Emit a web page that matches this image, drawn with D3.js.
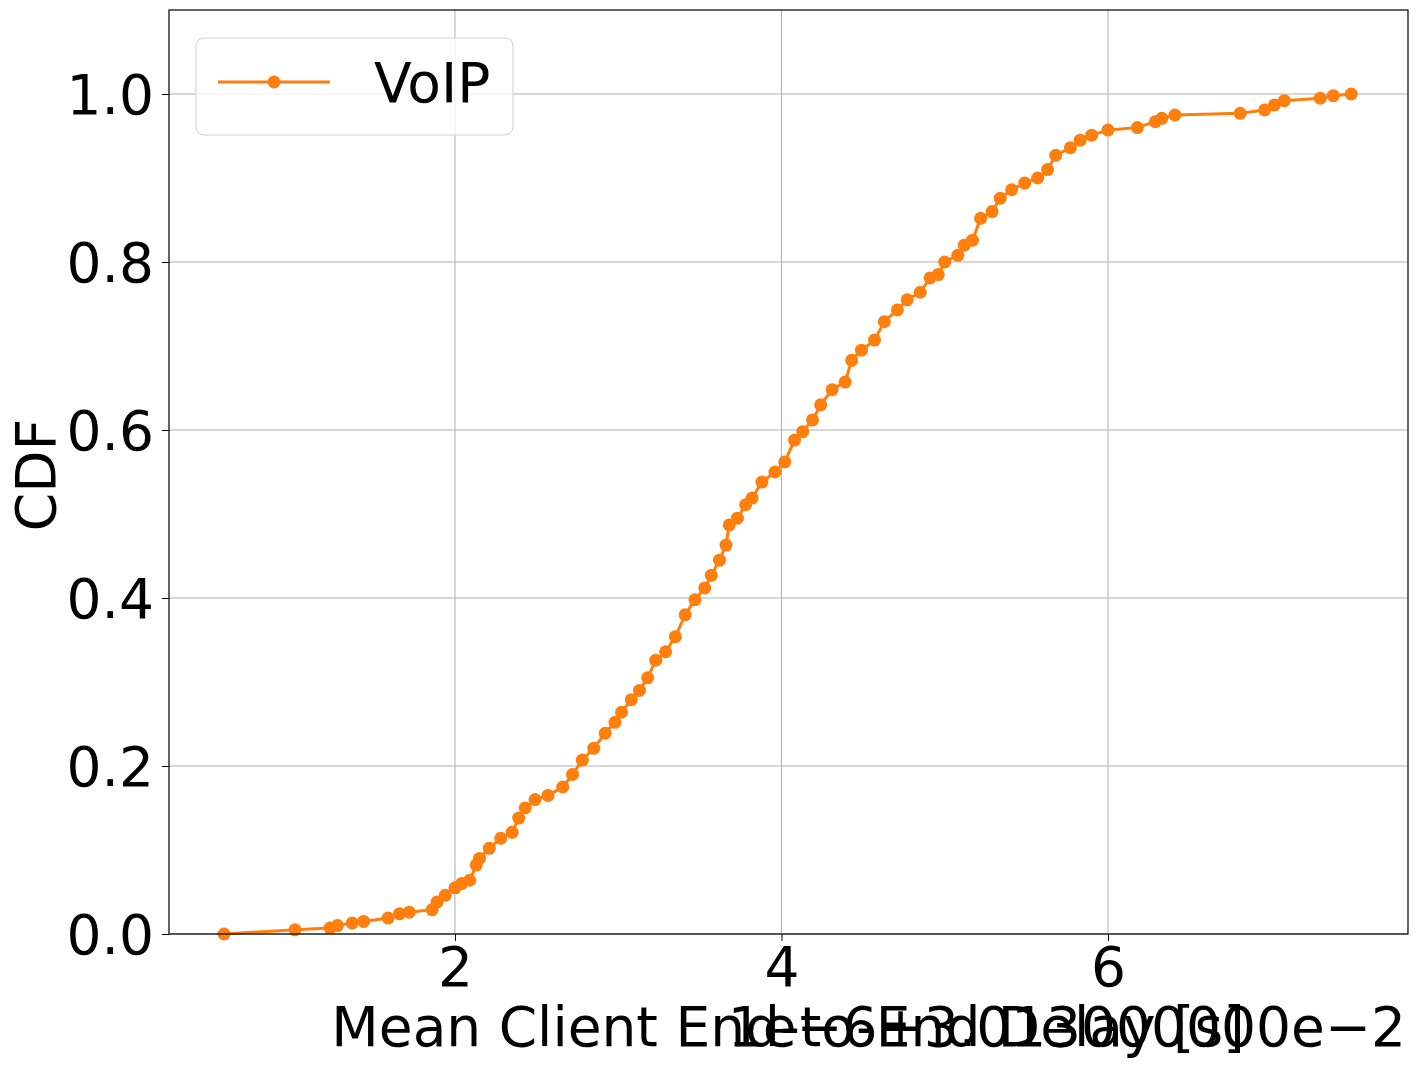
<!DOCTYPE html>
<html><head><meta charset="utf-8">
<script src="https://cdn.jsdelivr.net/npm/d3@7"></script>
<style>body{margin:0;background:#fff}text{font-family:"DejaVu Sans",sans-serif}</style>
</head><body><svg id="c" width="1417" height="1067"></svg>
<script>
// values (x in units of the offset, y = CDF)
var xs = [0.585,1.02,1.234,1.28,1.37,1.44,1.59,1.66,1.72,1.86,1.89,1.94,2.0,2.04,2.09,2.13,2.15,2.21,2.28,2.35,2.39,2.43,2.49,2.57,2.66,2.72,2.78,2.85,2.92,2.98,3.02,3.08,3.13,3.18,3.23,3.29,3.35,3.41,3.47,3.53,3.57,3.62,3.66,3.68,3.73,3.78,3.82,3.88,3.96,4.02,4.08,4.13,4.19,4.24,4.31,4.39,4.43,4.49,4.57,4.63,4.71,4.77,4.85,4.91,4.96,5.0,5.08,5.12,5.17,5.22,5.29,5.34,5.41,5.49,5.57,5.63,5.68,5.77,5.83,5.90,6.0,6.18,6.29,6.33,6.41,6.81,6.96,7.02,7.08,7.30,7.38,7.49];
var ys = [0,0.005,0.007,0.01,0.013,0.015,0.019,0.024,0.026,0.029,0.038,0.046,0.055,0.06,0.064,0.082,0.09,0.102,0.114,0.121,0.138,0.15,0.16,0.165,0.175,0.19,0.207,0.221,0.239,0.252,0.264,0.279,0.29,0.305,0.326,0.336,0.354,0.38,0.398,0.412,0.427,0.445,0.463,0.487,0.495,0.511,0.519,0.538,0.55,0.562,0.588,0.598,0.612,0.63,0.648,0.657,0.683,0.695,0.707,0.729,0.743,0.755,0.764,0.781,0.785,0.8,0.808,0.82,0.826,0.852,0.86,0.876,0.886,0.894,0.9,0.91,0.927,0.936,0.945,0.951,0.957,0.96,0.967,0.971,0.975,0.977,0.981,0.987,0.992,0.995,0.998,1.0];
var xTicks = [2,4,6];
var yTicks = [0,0.2,0.4,0.6,0.8,1.0];
var pts = xs.map(function(d,i){return [d, ys[i]];});

var svg = d3.select('#c');
var L=169,R=1408,T=10,B=934, col='#ff7f0e', fs=55;
var x = d3.scaleLinear().domain([0.248,7.838]).range([L,R]);
var y = d3.scaleLinear().domain([0,1.1]).range([B,T]);

var g = svg.append('g');
xTicks.forEach(function(t){g.append('line').attr('x1',x(t)).attr('x2',x(t)).attr('y1',T).attr('y2',B).attr('stroke','#b0b0b0').attr('stroke-width',1);});
yTicks.forEach(function(t){g.append('line').attr('x1',L).attr('x2',R).attr('y1',y(t)).attr('y2',y(t)).attr('stroke','#b0b0b0').attr('stroke-width',1);});

svg.append('g').attr('transform','translate(0,'+B+')')
  .call(d3.axisBottom(x).tickValues(xTicks).tickFormat(d3.format('d')).tickSize(7).tickPadding(6))
  .call(function(a){a.select('.domain').remove();a.selectAll('text').attr('font-size',fs).attr('fill','#000').attr('font-family','DejaVu Sans');a.selectAll('line').attr('stroke','#000');});
svg.append('g').attr('transform','translate('+L+',0)')
  .call(d3.axisLeft(y).tickValues(yTicks).tickFormat(d3.format('.1f')).tickSize(7).tickPadding(8))
  .call(function(a){a.select('.domain').remove();a.selectAll('text').attr('font-size',fs).attr('fill','#000').attr('font-family','DejaVu Sans').attr('dy','0.35em');a.selectAll('line').attr('stroke','#000');});

var line = d3.line().x(function(d){return x(d[0]);}).y(function(d){return y(d[1]);});
svg.append('path').datum(pts).attr('d',line).attr('fill','none').attr('stroke',col).attr('stroke-width',3);
svg.selectAll('circle.p').data(pts).enter().append('circle').attr('class','p')
  .attr('cx',function(d){return x(d[0]);}).attr('cy',function(d){return y(d[1]);}).attr('r',6.5).attr('fill',col);

svg.append('rect').attr('x',L).attr('y',T).attr('width',R-L).attr('height',B-T).attr('fill','none').attr('stroke','#000').attr('stroke-width',1.2);

svg.append('text').attr('x',788).attr('y',1046).attr('text-anchor','middle').attr('font-size',fs).text('Mean Client End-to-End Delay [s]');
svg.append('text').attr('x',1406).attr('y',1046).attr('text-anchor','end').attr('font-size',fs).text('1e\u22126+3.013000000e\u22122');
svg.append('text').attr('transform','translate(55,475) rotate(-90)').attr('text-anchor','middle').attr('font-size',fs).text('CDF');

var lg = svg.append('g');
lg.append('rect').attr('x',196).attr('y',38).attr('width',317).attr('height',97).attr('rx',8).attr('fill','#fff').attr('fill-opacity',0.8).attr('stroke','#d0d0d0');
lg.append('line').attr('x1',218).attr('x2',330).attr('y1',82).attr('y2',82).attr('stroke',col).attr('stroke-width',3);
lg.append('circle').attr('cx',274).attr('cy',82).attr('r',6.5).attr('fill',col);
lg.append('text').attr('x',374).attr('y',102).attr('font-size',fs).text('VoIP');
</script></body></html>
